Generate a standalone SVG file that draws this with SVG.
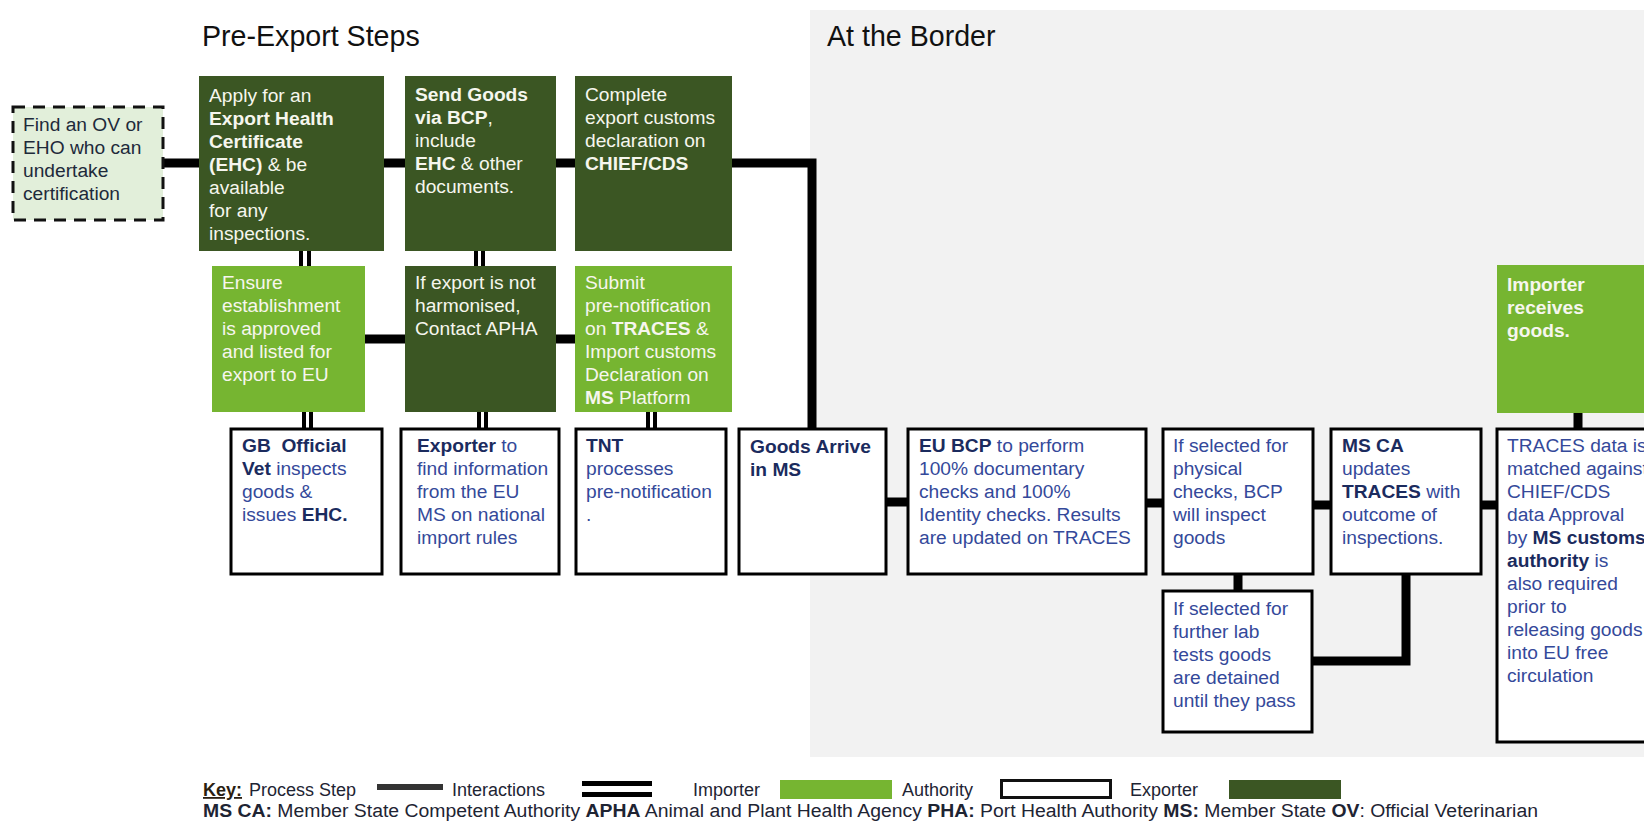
<svg xmlns="http://www.w3.org/2000/svg" width="1644" height="821" viewBox="0 0 1644 821">
<style>
text{font-family:"Liberation Sans",Arial,sans-serif;font-size:19.2px}
.dk{fill:#3B5623}
.lt{fill:#76B531}
.au{fill:#FFFFFF;stroke:#000;stroke-width:3}
.w{fill:#F6F6EE}
.bl{fill:#34499A}
.nv{fill:#1B2B5E}
.b{font-weight:bold}
.ln{stroke:#000;stroke-width:9;fill:none;stroke-linejoin:miter;stroke-linecap:butt}
.dl{stroke:#000;stroke-width:4}
.ttl{font-size:28.6px;fill:#111}
.key{font-size:18px;fill:#1E2433}
</style>
<rect x="0" y="0" width="1644" height="821" fill="#FFFFFF"/>
<rect x="810" y="10" width="834" height="747" fill="#F2F2F2"/>
<text class="ttl" x="202" y="46">Pre-Export Steps</text>
<text class="ttl" x="827" y="46">At the Border</text>

<g id="connectors">
<path class="ln" d="M163 163 H199"/>
<path class="ln" d="M384 163 H405"/>
<path class="ln" d="M556 163 H575"/>
<path class="ln" d="M732 163 H812 V429"/>
<path class="ln" d="M365 339 H405"/>
<path class="ln" d="M556 339 H575"/>
<path class="ln" d="M885 502 H908"/>
<path class="ln" d="M1146 503 H1163"/>
<path class="ln" d="M1313 505 H1331"/>
<path class="ln" d="M1481 505 H1496"/>
<path class="ln" d="M1238 574 V591"/>
<path class="ln" d="M1406 574 V661 H1312"/>
<path class="ln" d="M1578 412 V429"/>
<line class="dl" x1="301" y1="250" x2="301" y2="267"/>
<line class="dl" x1="309" y1="250" x2="309" y2="267"/>
<line class="dl" x1="476" y1="250" x2="476" y2="267"/>
<line class="dl" x1="483" y1="250" x2="483" y2="267"/>
<line class="dl" x1="304" y1="411" x2="304" y2="429"/>
<line class="dl" x1="311" y1="411" x2="311" y2="429"/>
<line class="dl" x1="479" y1="411" x2="479" y2="429"/>
<line class="dl" x1="486" y1="411" x2="486" y2="429"/>
<line class="dl" x1="648" y1="411" x2="648" y2="429"/>
<line class="dl" x1="655" y1="411" x2="655" y2="429"/>
</g>

<g id="find-ov">
<rect x="13" y="107" width="150" height="113" fill="#E2EFDA" stroke="#111" stroke-width="3" stroke-dasharray="12 8"/>
<text x="23" fill="#1E2A3A"><tspan x="23" y="131">Find an OV or</tspan><tspan x="23" y="154">EHO who can</tspan><tspan x="23" y="177">undertake</tspan><tspan x="23" y="200">certification</tspan></text>
</g>

<g id="apply-ehc">
<rect class="dk" x="199" y="76" width="185" height="175"/>
<text class="w"><tspan x="209" y="102">Apply for an</tspan><tspan x="209" y="125" class="b">Export Health</tspan><tspan x="209" y="148" class="b">Certificate</tspan><tspan x="209" y="171"><tspan class="b">(EHC)</tspan> &amp; be</tspan><tspan x="209" y="194">available</tspan><tspan x="209" y="217">for any</tspan><tspan x="209" y="240">inspections.</tspan></text>
</g>

<g id="send-goods">
<rect class="dk" x="405" y="76" width="151" height="175"/>
<text class="w"><tspan x="415" y="101" class="b">Send Goods</tspan><tspan x="415" y="124"><tspan class="b">via BCP</tspan>,</tspan><tspan x="415" y="147">include</tspan><tspan x="415" y="170"><tspan class="b">EHC</tspan> &amp; other</tspan><tspan x="415" y="193">documents.</tspan></text>
</g>

<g id="export-declaration">
<rect class="dk" x="575" y="76" width="157" height="175"/>
<text class="w"><tspan x="585" y="101">Complete</tspan><tspan x="585" y="124">export customs</tspan><tspan x="585" y="147">declaration on</tspan><tspan x="585" y="170" class="b">CHIEF/CDS</tspan></text>
</g>

<g id="ensure-establishment">
<rect class="lt" x="212" y="266" width="153" height="146"/>
<text class="w"><tspan x="222" y="289">Ensure</tspan><tspan x="222" y="312">establishment</tspan><tspan x="222" y="335">is approved</tspan><tspan x="222" y="358">and listed for</tspan><tspan x="222" y="381">export to EU</tspan></text>
</g>

<g id="contact-apha">
<rect class="dk" x="405" y="266" width="151" height="146"/>
<text class="w"><tspan x="415" y="289">If export is not</tspan><tspan x="415" y="312">harmonised,</tspan><tspan x="415" y="335">Contact APHA</tspan></text>
</g>

<g id="submit-prenotification">
<rect class="lt" x="575" y="266" width="157" height="146"/>
<text class="w"><tspan x="585" y="289">Submit</tspan><tspan x="585" y="312">pre-notification</tspan><tspan x="585" y="335">on <tspan class="b">TRACES</tspan> &amp;</tspan><tspan x="585" y="358">Import customs</tspan><tspan x="585" y="381">Declaration on</tspan><tspan x="585" y="404"><tspan class="b">MS</tspan> Platform</tspan></text>
</g>

<g id="gb-official-vet">
<rect class="au" x="231" y="429" width="151" height="145"/>
<text class="bl"><tspan x="242" y="452" class="b nv" xml:space="preserve">GB  Official</tspan><tspan x="242" y="475"><tspan class="b nv">Vet</tspan> inspects</tspan><tspan x="242" y="498">goods &amp;</tspan><tspan x="242" y="521">issues <tspan class="b nv">EHC.</tspan></tspan></text>
</g>

<g id="exporter-info">
<rect class="au" x="401" y="429" width="158" height="145"/>
<text class="bl"><tspan x="417" y="452"><tspan class="b nv">Exporter</tspan> to</tspan><tspan x="417" y="475">find information</tspan><tspan x="417" y="498">from the EU</tspan><tspan x="417" y="521">MS on national</tspan><tspan x="417" y="544">import rules</tspan></text>
</g>

<g id="tnt">
<rect class="au" x="576" y="429" width="150" height="145"/>
<text class="bl"><tspan x="586" y="452" class="b nv">TNT</tspan><tspan x="586" y="475">processes</tspan><tspan x="586" y="498">pre-notification</tspan><tspan x="586" y="521">.</tspan></text>
</g>

<g id="goods-arrive">
<rect class="au" x="739" y="429" width="147" height="145"/>
<text class="b nv"><tspan x="750" y="453">Goods Arrive</tspan><tspan x="750" y="476">in MS</tspan></text>
</g>

<g id="eu-bcp-checks">
<rect class="au" x="908" y="429" width="238" height="145"/>
<text class="bl"><tspan x="919" y="452"><tspan class="b nv">EU BCP</tspan> to perform</tspan><tspan x="919" y="475">100% documentary</tspan><tspan x="919" y="498">checks and 100%</tspan><tspan x="919" y="521">Identity checks. Results</tspan><tspan x="919" y="544">are updated on TRACES</tspan></text>
</g>

<g id="physical-checks">
<rect class="au" x="1163" y="429" width="150" height="145"/>
<text class="bl"><tspan x="1173" y="452">If selected for</tspan><tspan x="1173" y="475">physical</tspan><tspan x="1173" y="498">checks, BCP</tspan><tspan x="1173" y="521">will inspect</tspan><tspan x="1173" y="544">goods</tspan></text>
</g>

<g id="ms-ca-updates">
<rect class="au" x="1331" y="429" width="150" height="145"/>
<text class="bl"><tspan x="1342" y="452" class="b nv">MS CA</tspan><tspan x="1342" y="475">updates</tspan><tspan x="1342" y="498"><tspan class="b nv">TRACES</tspan> with</tspan><tspan x="1342" y="521">outcome of</tspan><tspan x="1342" y="544">inspections.</tspan></text>
</g>

<g id="lab-tests">
<rect class="au" x="1163" y="591" width="149" height="141"/>
<text class="bl"><tspan x="1173" y="615">If selected for</tspan><tspan x="1173" y="638">further lab</tspan><tspan x="1173" y="661">tests goods</tspan><tspan x="1173" y="684">are detained</tspan><tspan x="1173" y="707">until they pass</tspan></text>
</g>

<g id="importer-receives">
<rect class="lt" x="1497" y="265" width="160" height="148"/>
<text class="w b"><tspan x="1507" y="291">Importer</tspan><tspan x="1507" y="314">receives</tspan><tspan x="1507" y="337">goods.</tspan></text>
</g>

<g id="traces-matched">
<rect class="au" x="1497" y="429" width="160" height="313"/>
<text class="bl"><tspan x="1507" y="452">TRACES data is</tspan><tspan x="1507" y="475">matched against</tspan><tspan x="1507" y="498">CHIEF/CDS</tspan><tspan x="1507" y="521">data Approval</tspan><tspan x="1507" y="544">by <tspan class="b nv">MS customs</tspan></tspan><tspan x="1507" y="567"><tspan class="b nv">authority</tspan> is</tspan><tspan x="1507" y="590">also required</tspan><tspan x="1507" y="613">prior to</tspan><tspan x="1507" y="636">releasing goods</tspan><tspan x="1507" y="659">into EU free</tspan><tspan x="1507" y="682">circulation</tspan></text>
</g>

<g id="key">
<text class="key" x="203" y="796"><tspan class="b" text-decoration="underline" fill="#2A1E12">Key:</tspan></text>
<text class="key" x="249" y="796">Process Step</text>
<rect x="377" y="784" width="66" height="6" fill="#333333"/>
<text class="key" x="452" y="796">Interactions</text>
<rect x="582" y="781" width="70" height="5" fill="#000"/>
<rect x="582" y="792" width="70" height="5" fill="#000"/>
<text class="key" x="693" y="796">Importer</text>
<rect x="780" y="780" width="112" height="19" fill="#76B531"/>
<text class="key" x="902" y="796">Authority</text>
<rect x="1001.5" y="780.5" width="109" height="17" fill="#FFF" stroke="#111" stroke-width="3"/>
<text class="key" x="1130" y="796">Exporter</text>
<rect x="1229" y="780" width="112" height="19" fill="#3B5623"/>
<text class="key" x="203" y="817" textLength="1335" lengthAdjust="spacingAndGlyphs"><tspan class="b">MS CA:</tspan> Member State Competent Authority <tspan class="b">APHA</tspan> Animal and Plant Health Agency  <tspan class="b">PHA:</tspan> Port Health Authority <tspan class="b">MS:</tspan> Member State <tspan class="b">OV</tspan>: Official Veterinarian</text>
</g>
</svg>
